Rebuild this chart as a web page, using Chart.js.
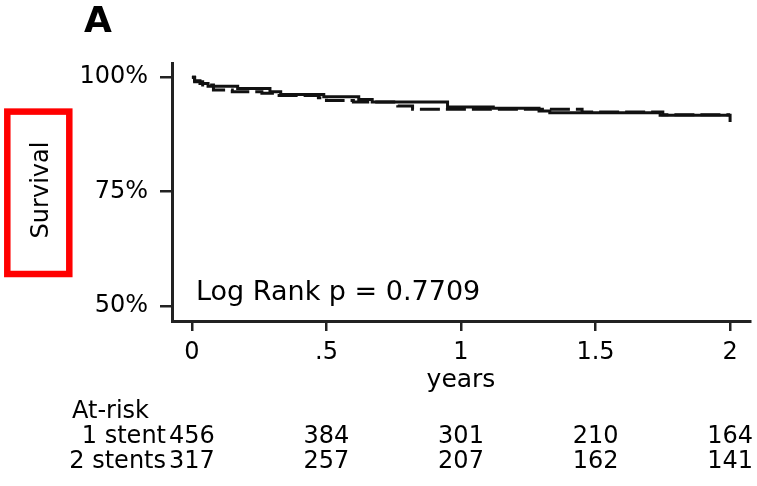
<!DOCTYPE html>
<html>
<head>
<meta charset="utf-8">
<script src="https://cdn.jsdelivr.net/npm/chart.js@4"></script>
<style>
  html, body { margin: 0; padding: 0; background: #fff; }
  #wrap { width: 757px; height: 486px; }
</style>
</head>
<body>
<div id="wrap"><canvas id="km"></canvas></div>
<script>
// Kaplan-Meier curves (years, % surviving)
const oneStentT = [0, 0.01, 0.03, 0.06, 0.17, 0.29, 0.33, 0.49, 0.62, 0.67, 0.95, 1.12, 1.29, 1.33, 1.74, 2.0, 2.0];
const oneStentS = [100, 99.2, 98.6, 98.0, 97.5, 96.8, 96.2, 95.7, 95.1, 94.6, 93.5, 93.2, 92.6, 92.2, 91.7, 91.7, 90.2];
const twoStentT = [0, 0.01, 0.04, 0.08, 0.15, 0.26, 0.31, 0.47, 0.5, 0.6, 0.765, 0.82, 1.45, 1.75, 2.0];
const twoStentS = [100, 99.0, 98.3, 97.2, 96.8, 96.5, 96.0, 95.5, 94.9, 94.6, 93.7, 93.0, 92.4, 91.8, 91.8];

const xTicks = [0, 0.5, 1, 1.5, 2];
const xTickLabels = ['0', '.5', '1', '1.5', '2'];
const yTicks = [50, 75, 100];

// at-risk table
const riskTimes = [0, 0.5, 1, 1.5, 2];
const riskGroups = ['1 stent', '2 stents'];
const riskOne = [456, 384, 301, 210, 164];
const riskTwo = [317, 257, 207, 162, 141];

const FONT = "'DejaVu Sans', sans-serif";
const ink = '#111';

const pts = (t, s) => t.map((v, i) => ({ x: v, y: s[i] }));

const extras = {
  id: 'extras',
  afterDraw(chart) {
    const ctx = chart.ctx;
    const xs = chart.scales.x;
    ctx.save();
    ctx.fillStyle = '#000';

    // panel letter
    ctx.font = 'bold 36px ' + FONT;
    ctx.textAlign = 'center';
    ctx.textBaseline = 'middle';
    ctx.fillText('A', 98, 23);

    // log rank note
    ctx.font = '27px ' + FONT;
    ctx.textAlign = 'left';
    ctx.fillText('Log Rank p = 0.7709', 196, 293);

    // x title
    ctx.font = '25px ' + FONT;
    ctx.textAlign = 'center';
    ctx.fillText('years', xs.getPixelForValue(1), 380);

    // y title, rotated
    ctx.save();
    ctx.translate(42, 190);
    ctx.rotate(-Math.PI / 2);
    ctx.font = '24px ' + FONT;
    ctx.fillText('Survival', 0, 0);
    ctx.restore();

    // red box around y title
    ctx.strokeStyle = '#ff0000';
    ctx.lineWidth = 6.5;
    ctx.strokeRect(7.3, 111.6, 62, 162.4);

    // at-risk table
    ctx.font = '24px ' + FONT;
    ctx.textAlign = 'left';
    ctx.fillText('At-risk', 72, 412);
    const rows = [riskOne, riskTwo];
    rows.forEach((row, r) => {
      const y = 437 + r * 25;
      ctx.textAlign = 'right';
      ctx.fillText(riskGroups[r], 166, y);
      ctx.textAlign = 'center';
      row.forEach((n, i) => ctx.fillText(String(n), xs.getPixelForValue(riskTimes[i]), y));
    });
    ctx.restore();
  }
};

new Chart(document.getElementById('km'), {
  type: 'line',
  data: {
    datasets: [
      {
        label: '1 stent',
        data: pts(oneStentT, oneStentS),
        borderColor: ink,
        borderWidth: 3,
        stepped: 'before',
        pointRadius: 0,
        fill: false
      },
      {
        label: '2 stents',
        data: pts(twoStentT, twoStentS),
        borderColor: ink,
        borderWidth: 3,
        borderDash: [20, 6],
        stepped: 'before',
        pointRadius: 0,
        fill: false
      }
    ]
  },
  options: {
    responsive: true,
    maintainAspectRatio: false,
    animation: false,
    layout: { padding: { left: 0, top: 63, right: 7, bottom: 0 } },
    plugins: {
      legend: { display: false },
      tooltip: { enabled: false }
    },
    scales: {
      x: {
        type: 'linear',
        min: -0.074,
        max: 2.074,
        afterBuildTicks: s => { s.ticks = xTicks.map(v => ({ value: v })); },
        afterFit: s => { s.height = 486 - 321; },
        border: { display: true, color: '#222', width: 3 },
        grid: { drawOnChartArea: false, drawTicks: true, tickLength: 10, color: '#222', lineWidth: 2.5 },
        ticks: {
          color: '#000',
          font: { family: FONT, size: 24 },
          padding: 7,
          maxRotation: 0,
          callback: (v, i) => xTickLabels[i]
        }
      },
      y: {
        min: 46.7,
        max: 103.1,
        afterBuildTicks: s => { s.ticks = yTicks.map(v => ({ value: v })); },
        afterFit: s => { s.width = 172; },
        border: { display: true, color: '#222', width: 3 },
        grid: { drawOnChartArea: false, drawTicks: true, tickLength: 12, color: '#222', lineWidth: 2.5 },
        ticks: {
          color: '#000',
          font: { family: FONT, size: 24 },
          padding: 12,
          callback: v => v + '%'
        }
      }
    }
  },
  plugins: [extras]
});
</script>
</body>
</html>
